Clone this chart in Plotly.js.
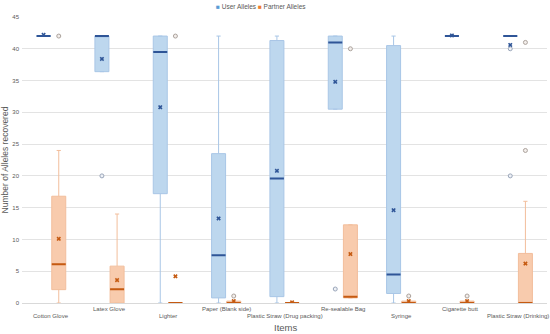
<!DOCTYPE html>
<html>
<head>
<meta charset="utf-8">
<script src="https://cdn.plot.ly/plotly-3.0.1.min.js"></script>
<style>html,body{margin:0;padding:0;background:#fff;}#chart{width:550px;height:334px;}</style>
</head>
<body>
<div id="chart"></div>
<script>
const categories = ["Cotton Glove","Latex Glove","Lighter","Paper (Blank side)","Plastic Straw (Drug packing)","Re-sealable Bag","Syringe","Cigarette butt","Plastic Straw (Drinking)"];

const userLow    = [42, 36.4, 0,    0,    0,    30.5, 0,    42, 42];
const userQ1     = [42, 36.4, 17.2, 0.8,  1.0,  30.5, 1.5,  42, 42];
const userMedian = [42, 42,   39.5, 7.5,  19.6, 41.0, 4.5,  42, 42];
const userQ3     = [42, 42,   42,   23.5, 41.3, 42,   40.5, 42, 42];
const userHigh   = [42, 42,   42,   42,   42,   42,   42,   42, 42];
const userMean   = [42.2, 38.4, 30.8, 13.3, 20.8, 34.8, 14.6, 42.1, 40.6];
const userOutlierCat = [1, 5, 8, 8];
const userOutlierVal = [20, 2.2, 40, 20];

const partnerLow    = [0,    0,    0,   0,   0,   0.8, 0,   0,   0];
const partnerQ1     = [2.1,  0,    0,   0,   0,   0.8, 0,   0,   0];
const partnerMedian = [6.1,  2.15, 0,   0,   0,   1.0, 0,   0,   0];
const partnerQ3     = [16.8, 5.8,  0,   0.3, 0,   12.3, 0.3, 0.3, 7.8];
const partnerHigh   = [24,   14,   0,   0.3, 0,   12.3, 0.3, 0.3, 16];
const partnerMean   = [10.1, 3.6,  4.2, 0.3, 0.1, 7.7, 0.3, 0.3, 6.2];
const partnerOutlierCat = [0, 2, 3, 5, 6, 7, 8, 8];
const partnerOutlierVal = [42, 42, 1.1, 40, 1.1, 1.1, 41, 24];

const seriesNames = ["User Alleles", "Partner Alleles"];
const xTitle = "Items";
const yTitle = "Number of Alleles recovered";

const OFF = 0.13, W = 0.24;
const userX = categories.map((c, i) => i - OFF);
const partnerX = categories.map((c, i) => i + OFF);

const blueFill = "#BDD7EE", blueLine = "#A9C6E6", blueDark = "#2F5597";
const orFill = "#F8CBAD", orLine = "#F2BE9C", orDark = "#C55A11";

function boxTrace(x, low, q1, med, q3, high, fill, line) {
  return {type: "box", x: x, lowerfence: low, q1: q1, median: med, q3: q3, upperfence: high,
    width: W, fillcolor: fill, line: {color: line, width: 1}, whiskerwidth: 0.3,
    boxpoints: false, hoverinfo: "skip", showlegend: false};
}
function medianTrace(x, med, color) {
  return {type: "box", x: x, lowerfence: med, q1: med, median: med, q3: med, upperfence: med,
    width: W, fillcolor: "rgba(0,0,0,0)", line: {color: color, width: 2}, whiskerwidth: 0,
    boxpoints: false, hoverinfo: "skip", showlegend: false};
}

const data = [
  boxTrace(userX, userLow, userQ1, userMedian, userQ3, userHigh, blueFill, blueLine),
  boxTrace(partnerX, partnerLow, partnerQ1, partnerMedian, partnerQ3, partnerHigh, orFill, orLine),
  medianTrace(userX, userMedian, blueDark),
  medianTrace(partnerX, partnerMedian, orDark),
  {type: "scatter", mode: "markers", x: userOutlierCat.map(i => i - OFF), y: userOutlierVal,
   marker: {symbol: "circle", size: 4, color: "#EEF1F6", line: {color: "#9AA6BA", width: 1}}, hoverinfo: "skip", showlegend: false},
  {type: "scatter", mode: "markers", x: partnerOutlierCat.map(i => i + OFF), y: partnerOutlierVal,
   marker: {symbol: "circle", size: 4, color: "#F3EEEB", line: {color: "#ABA29C", width: 1}}, hoverinfo: "skip", showlegend: false},
  {type: "scatter", mode: "markers", x: userX, y: userMean,
   marker: {symbol: "x", size: 4, color: blueDark}, hoverinfo: "skip", showlegend: false},
  {type: "scatter", mode: "markers", x: partnerX, y: partnerMean,
   marker: {symbol: "x", size: 4, color: orDark}, hoverinfo: "skip", showlegend: false}
];

const FONT = "Liberation Sans, Arial, sans-serif";
const PL = 22, PT = 17, PW = 525, PH = 286;
const annotations = categories.map((c, i) => ({
  text: c, x: i, xref: "x", y: 0, yref: "paper", yanchor: "middle", xanchor: "center",
  yshift: (i % 2 === 0) ? -13 : -6, showarrow: false,
  font: {family: FONT, size: 6, color: "#595959"}
}));
annotations.push({
  text: '<span style="color:#5B9BD5">■</span> ' + seriesNames[0] + ' <span style="color:#ED7D31">■</span> ' + seriesNames[1],
  x: (261 - PL) / PW, xref: "paper", y: 1 + (PT - 7) / PH, yref: "paper", showarrow: false,
  xanchor: "center", yanchor: "middle",
  font: {family: FONT, size: 6.5, color: "#595959"}
});
annotations.push({
  text: xTitle, x: (285 - PL) / PW, xref: "paper", y: -(327 - (PT + PH)) / PH, yref: "paper",
  showarrow: false, xanchor: "center", yanchor: "middle",
  font: {family: FONT, size: 9.5, color: "#595959"}
});

const layout = {
  width: 550, height: 334,
  margin: {l: PL, r: 550 - PL - PW, t: PT, b: 334 - PT - PH},
  paper_bgcolor: "#fff", plot_bgcolor: "#fff",
  boxmode: "overlay",
  showlegend: false,
  font: {family: FONT, color: "#595959"},
  xaxis: {range: [-0.5, 8.5], showticklabels: false, showgrid: false, zeroline: false, ticks: "",
          showline: false},
  yaxis: {range: [0, 45], dtick: 5, tick0: 0, showgrid: true, gridcolor: "#E3E3E3", gridwidth: 1,
          zeroline: true, zerolinecolor: "#D9D9D9", zerolinewidth: 1,
          tickfont: {family: FONT, size: 6, color: "#595959"}, ticks: "", ticklabelstandoff: 2,
          title: {text: yTitle, font: {family: FONT, size: 8.5, color: "#595959"}, standoff: 2}},
  annotations: annotations
};

Plotly.newPlot("chart", data, layout, {staticPlot: true, displayModeBar: false});
</script>
</body>
</html>
